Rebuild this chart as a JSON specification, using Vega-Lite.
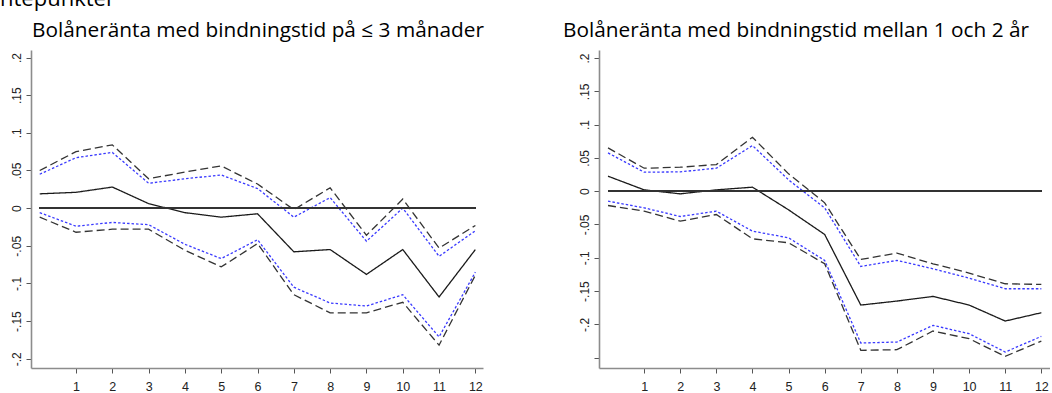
{
  "$schema": "https://vega.github.io/schema/vega-lite/v6.json",
  "padding": {"left": 0, "top": -12, "right": 0, "bottom": 0},
  "title": {"text": "ntepunkter", "anchor": "start", "frame": "bounds", "fontSize": 22, "font": "Open Sans", "fontWeight": "normal", "baseline": "alphabetic", "offset": 12, "dy": 20, "color": "#000000"},
  "datasets": {
    "left": [
      {"step": 0, "series": "est", "value": 0.019}, {"step": 1, "series": "est", "value": 0.021}, {"step": 2, "series": "est", "value": 0.028}, {"step": 3, "series": "est", "value": 0.006}, {"step": 4, "series": "est", "value": -0.006}, {"step": 5, "series": "est", "value": -0.012}, {"step": 6, "series": "est", "value": -0.0075}, {"step": 7, "series": "est", "value": -0.058}, {"step": 8, "series": "est", "value": -0.055}, {"step": 9, "series": "est", "value": -0.088}, {"step": 10, "series": "est", "value": -0.055}, {"step": 11, "series": "est", "value": -0.118}, {"step": 12, "series": "est", "value": -0.055},
      {"step": 0, "series": "hi95", "value": 0.05}, {"step": 1, "series": "hi95", "value": 0.075}, {"step": 2, "series": "hi95", "value": 0.084}, {"step": 3, "series": "hi95", "value": 0.039}, {"step": 4, "series": "hi95", "value": 0.048}, {"step": 5, "series": "hi95", "value": 0.056}, {"step": 6, "series": "hi95", "value": 0.032}, {"step": 7, "series": "hi95", "value": -0.002}, {"step": 8, "series": "hi95", "value": 0.027}, {"step": 9, "series": "hi95", "value": -0.036}, {"step": 10, "series": "hi95", "value": 0.012}, {"step": 11, "series": "hi95", "value": -0.053}, {"step": 12, "series": "hi95", "value": -0.023},
      {"step": 0, "series": "hi90", "value": 0.045}, {"step": 1, "series": "hi90", "value": 0.067}, {"step": 2, "series": "hi90", "value": 0.074}, {"step": 3, "series": "hi90", "value": 0.033}, {"step": 4, "series": "hi90", "value": 0.039}, {"step": 5, "series": "hi90", "value": 0.044}, {"step": 6, "series": "hi90", "value": 0.026}, {"step": 7, "series": "hi90", "value": -0.012}, {"step": 8, "series": "hi90", "value": 0.014}, {"step": 9, "series": "hi90", "value": -0.044}, {"step": 10, "series": "hi90", "value": 0.0}, {"step": 11, "series": "hi90", "value": -0.064}, {"step": 12, "series": "hi90", "value": -0.03},
      {"step": 0, "series": "lo90", "value": -0.006}, {"step": 1, "series": "lo90", "value": -0.024}, {"step": 2, "series": "lo90", "value": -0.019}, {"step": 3, "series": "lo90", "value": -0.022}, {"step": 4, "series": "lo90", "value": -0.048}, {"step": 5, "series": "lo90", "value": -0.067}, {"step": 6, "series": "lo90", "value": -0.042}, {"step": 7, "series": "lo90", "value": -0.105}, {"step": 8, "series": "lo90", "value": -0.126}, {"step": 9, "series": "lo90", "value": -0.13}, {"step": 10, "series": "lo90", "value": -0.115}, {"step": 11, "series": "lo90", "value": -0.171}, {"step": 12, "series": "lo90", "value": -0.085},
      {"step": 0, "series": "lo95", "value": -0.012}, {"step": 1, "series": "lo95", "value": -0.032}, {"step": 2, "series": "lo95", "value": -0.028}, {"step": 3, "series": "lo95", "value": -0.028}, {"step": 4, "series": "lo95", "value": -0.056}, {"step": 5, "series": "lo95", "value": -0.078}, {"step": 6, "series": "lo95", "value": -0.047}, {"step": 7, "series": "lo95", "value": -0.115}, {"step": 8, "series": "lo95", "value": -0.139}, {"step": 9, "series": "lo95", "value": -0.139}, {"step": 10, "series": "lo95", "value": -0.125}, {"step": 11, "series": "lo95", "value": -0.182}, {"step": 12, "series": "lo95", "value": -0.089}
    ],
    "right": [
      {"step": 0, "series": "est", "value": 0.0225}, {"step": 1, "series": "est", "value": 0.002}, {"step": 2, "series": "est", "value": -0.004}, {"step": 3, "series": "est", "value": 0.002}, {"step": 4, "series": "est", "value": 0.006}, {"step": 5, "series": "est", "value": -0.028}, {"step": 6, "series": "est", "value": -0.065}, {"step": 7, "series": "est", "value": -0.171}, {"step": 8, "series": "est", "value": -0.165}, {"step": 9, "series": "est", "value": -0.158}, {"step": 10, "series": "est", "value": -0.171}, {"step": 11, "series": "est", "value": -0.195}, {"step": 12, "series": "est", "value": -0.1825},
      {"step": 0, "series": "hi95", "value": 0.065}, {"step": 1, "series": "hi95", "value": 0.0345}, {"step": 2, "series": "hi95", "value": 0.036}, {"step": 3, "series": "hi95", "value": 0.04}, {"step": 4, "series": "hi95", "value": 0.081}, {"step": 5, "series": "hi95", "value": 0.026}, {"step": 6, "series": "hi95", "value": -0.0175}, {"step": 7, "series": "hi95", "value": -0.1025}, {"step": 8, "series": "hi95", "value": -0.093}, {"step": 9, "series": "hi95", "value": -0.109}, {"step": 10, "series": "hi95", "value": -0.123}, {"step": 11, "series": "hi95", "value": -0.139}, {"step": 12, "series": "hi95", "value": -0.14},
      {"step": 0, "series": "hi90", "value": 0.0575}, {"step": 1, "series": "hi90", "value": 0.0285}, {"step": 2, "series": "hi90", "value": 0.029}, {"step": 3, "series": "hi90", "value": 0.0345}, {"step": 4, "series": "hi90", "value": 0.0685}, {"step": 5, "series": "hi90", "value": 0.017}, {"step": 6, "series": "hi90", "value": -0.025}, {"step": 7, "series": "hi90", "value": -0.113}, {"step": 8, "series": "hi90", "value": -0.104}, {"step": 9, "series": "hi90", "value": -0.1165}, {"step": 10, "series": "hi90", "value": -0.1305}, {"step": 11, "series": "hi90", "value": -0.1465}, {"step": 12, "series": "hi90", "value": -0.1465},
      {"step": 0, "series": "lo90", "value": -0.015}, {"step": 1, "series": "lo90", "value": -0.025}, {"step": 2, "series": "lo90", "value": -0.038}, {"step": 3, "series": "lo90", "value": -0.03}, {"step": 4, "series": "lo90", "value": -0.06}, {"step": 5, "series": "lo90", "value": -0.07}, {"step": 6, "series": "lo90", "value": -0.104}, {"step": 7, "series": "lo90", "value": -0.228}, {"step": 8, "series": "lo90", "value": -0.2265}, {"step": 9, "series": "lo90", "value": -0.2015}, {"step": 10, "series": "lo90", "value": -0.214}, {"step": 11, "series": "lo90", "value": -0.2415}, {"step": 12, "series": "lo90", "value": -0.218},
      {"step": 0, "series": "lo95", "value": -0.0215}, {"step": 1, "series": "lo95", "value": -0.03}, {"step": 2, "series": "lo95", "value": -0.045}, {"step": 3, "series": "lo95", "value": -0.035}, {"step": 4, "series": "lo95", "value": -0.0715}, {"step": 5, "series": "lo95", "value": -0.0775}, {"step": 6, "series": "lo95", "value": -0.109}, {"step": 7, "series": "lo95", "value": -0.239}, {"step": 8, "series": "lo95", "value": -0.238}, {"step": 9, "series": "lo95", "value": -0.21}, {"step": 10, "series": "lo95", "value": -0.2215}, {"step": 11, "series": "lo95", "value": -0.248}, {"step": 12, "series": "lo95", "value": -0.225}
    ]
  },
  "spacing": 79,
  "hconcat": [
    {
      "width": 452,
      "height": 318,
      "title": {"text": "Bolåneränta med bindningstid på ≤ 3 månader", "anchor": "start", "dx": 1},
      "data": {"name": "left"},
      "layer": [
        {
          "mark": {"type": "line", "strokeWidth": 1.3},
          "encoding": {
            "x": {"field": "step", "type": "quantitative", "scale": {"domain": [-0.24, 12.21], "nice": false, "zero": false}, "axis": {"values": [1,2,3,4,5,6,7,8,9,10,11,12], "format": "d", "title": null, "labelOverlap": false}},
            "y": {"field": "value", "type": "quantitative", "scale": {"domain": [-0.2123, 0.21], "nice": false, "zero": false}, "axis": {"tickCount": 9, "format": ".2~f", "labelOverlap": false, "labelBound": false, "labelSeparation": 0, "labelExpr": "replace(replace(datum.label, '\u2212', '-'), '0.', '.')", "title": null}},
            "color": {"field": "series", "type": "nominal", "scale": {"domain": ["est","hi95","lo95","hi90","lo90"], "range": ["#1a1a1a","#333333","#333333","#3a3aff","#3a3aff"]}, "legend": null},
            "strokeDash": {"field": "series", "type": "nominal", "scale": {"domain": ["est","hi95","lo95","hi90","lo90"], "range": [[1,0],[8,4],[8,4],[2.5,2],[2.5,2]]}, "legend": null}
          }
        },
        {
          "mark": {"type": "rule", "color": "#333333", "strokeWidth": 1.3},
          "encoding": {
            "x": {"datum": 0, "type": "quantitative"},
            "x2": {"datum": 12},
            "y": {"datum": 0, "type": "quantitative"}
          }
        }
      ]
    },
    {
      "width": 451,
      "height": 318,
      "title": {"text": "Bolåneränta med bindningstid mellan 1 och 2 år", "anchor": "start", "dx": -36},
      "data": {"name": "right"},
      "layer": [
        {
          "mark": {"type": "line", "strokeWidth": 1.3},
          "encoding": {
            "x": {"field": "step", "type": "quantitative", "scale": {"domain": [-0.25, 12.24], "nice": false, "zero": false}, "axis": {"values": [1,2,3,4,5,6,7,8,9,10,11,12], "format": "d", "title": null, "labelOverlap": false}},
            "y": {"field": "value", "type": "quantitative", "scale": {"domain": [-0.2655, 0.212], "nice": false, "zero": false}, "axis": {"tickCount": 9, "format": ".2~f", "labelOverlap": false, "labelBound": false, "labelSeparation": 0, "labelExpr": "datum.value < -0.24 ? '' : replace(replace(datum.label, '\u2212', '-'), '0.', '.')", "title": null}},
            "color": {"field": "series", "type": "nominal", "scale": {"domain": ["est","hi95","lo95","hi90","lo90"], "range": ["#1a1a1a","#333333","#333333","#3a3aff","#3a3aff"]}, "legend": null},
            "strokeDash": {"field": "series", "type": "nominal", "scale": {"domain": ["est","hi95","lo95","hi90","lo90"], "range": [[1,0],[8,4],[8,4],[2.5,2],[2.5,2]]}, "legend": null}
          }
        },
        {
          "mark": {"type": "rule", "color": "#333333", "strokeWidth": 1.3},
          "encoding": {
            "x": {"datum": 0, "type": "quantitative"},
            "x2": {"datum": 12},
            "y": {"datum": 0, "type": "quantitative"}
          }
        }
      ]
    }
  ],
  "resolve": {"scale": {"x": "independent", "y": "independent"}},
  "config": {
    "background": "#ffffff",
    "view": {"stroke": null},
    "title": {"font": "Open Sans", "fontSize": 20.8, "fontWeight": "normal", "color": "#000000", "baseline": "alphabetic", "offset": 8, "frame": "group"},
    "axis": {"grid": false, "domainColor": "#8c8c8c", "domainWidth": 1.6, "tickColor": "#555555", "tickWidth": 1, "tickSize": 5, "labelFont": "Liberation Sans", "labelColor": "#222222", "labelOverlap": false},
    "axisX": {"labelFontSize": 12.5, "labelPadding": 7},
    "axisY": {"labelFontSize": 12, "labelAngle": -90, "labelAlign": "center", "labelBaseline": "bottom", "labelPadding": 3, "labelOverlap": false, "minExtent": 31, "maxExtent": 31}
  }
}
